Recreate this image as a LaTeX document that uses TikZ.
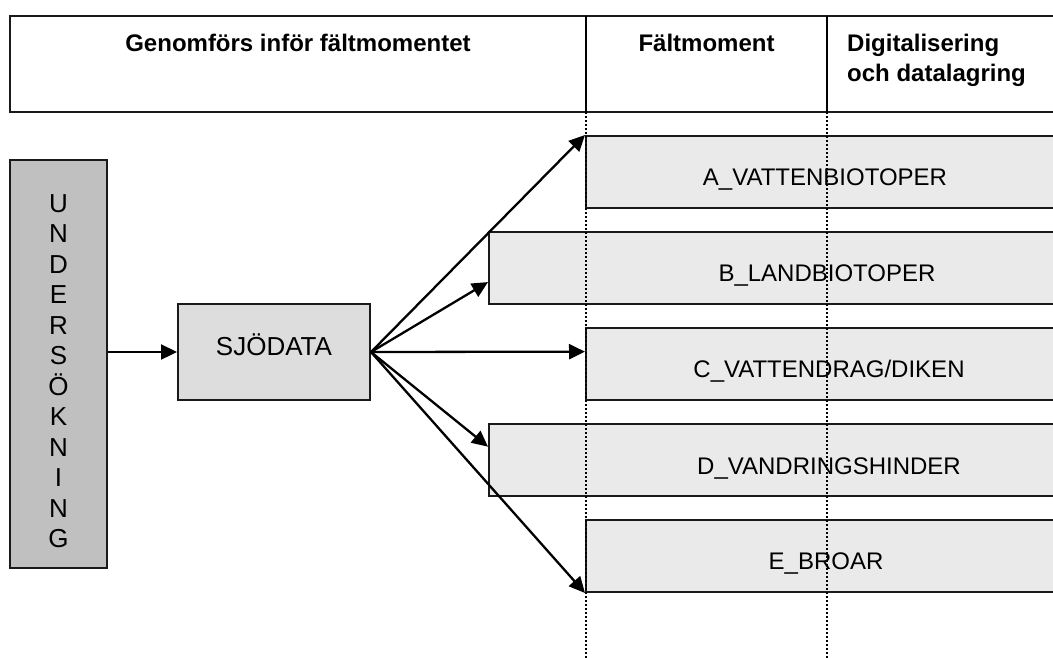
\documentclass[tikz,border=0pt]{standalone}
\usepackage{fontspec}
\setmainfont{Liberation Sans}
\usetikzlibrary{arrows.meta,calc}
\definecolor{undfill}{HTML}{C0C0C0}
\definecolor{sjofill}{HTML}{DDDDDD}
\definecolor{boxfill}{HTML}{EAEAEA}
\definecolor{boxline}{HTML}{1A1A1A}
\tikzset{
  hdrtext/.style={font=\bfseries\fontsize{24}{30}\selectfont, anchor=base, inner sep=0pt},
  lbltext/.style={font=\fontsize{24}{28}\selectfont, anchor=base, inner sep=0pt},
  bigtext/.style={font=\fontsize{26}{30}\selectfont, anchor=base, inner sep=0pt},
  stagebox/.style={draw=boxline, line width=2pt, fill=boxfill, rectangle, inner sep=0pt, minimum height=72pt},
  conn/.style={line width=2.3pt, -{Triangle[length=16pt,width=15pt]}},
  divline/.style={line width=1.4pt, dash pattern=on 1.8pt off 2.2pt},
}
\begin{document}
\begin{tikzpicture}[x=1pt,y=-1pt]
\useasboundingbox (0,0) rectangle (1053,657);
\clip (0,0) rectangle (1053,657);
% header
\draw[line width=2.2pt, draw=boxline] (1070,16) -- (10,16) -- (10,112) -- (1070,112);
\draw[line width=2pt] (586,16) -- (586,112);
\draw[line width=2pt] (827,16) -- (827,112);
\node[hdrtext] (h1) at (298,51) {Genomförs inför fältmomentet};
\node[hdrtext] (h2) at (706.5,51) {Fältmoment};
\node[hdrtext, anchor=base west] (h3) at (847,51) {Digitalisering};
\node[hdrtext, anchor=base west] (h4) at (847,81) {och datalagring};
% left boxes
\node (und) [draw=boxline, line width=2pt, fill=undfill, rectangle, inner sep=0pt,
  minimum width=97pt, minimum height=408pt] at (58.5,364) {};
\foreach \l [count=\i from 0] in {U,N,D,E,R,S,Ö,K,N,I,N,G}
  \node[bigtext] (und\i) at (58.5,{212+30.5*\i}) {\l};
\node (sjo) [draw=boxline, line width=2pt, fill=sjofill, rectangle, inner sep=0pt,
  minimum width=192pt, minimum height=96pt] at (274,352) {};
\node[bigtext] (sjot) at (274,355) {SJÖDATA};
% stage boxes (right edges beyond the page)
\node (A) [stagebox, minimum width=482pt] at (827,172) {};
\node (B) [stagebox, minimum width=676pt] at (827,268) {};
\node (C) [stagebox, minimum width=482pt] at (827,364) {};
\node (D) [stagebox, minimum width=676pt] at (827,460) {};
\node (E) [stagebox, minimum width=482pt] at (827,556) {};
\node[lbltext] (At) at (825,185) {A\_VATTENBIOTOPER};
\node[lbltext] (Bt) at (827,281) {B\_LANDBIOTOPER};
\node[lbltext] (Ct) at (829,377) {C\_VATTENDRAG/DIKEN};
\node[lbltext] (Dt) at (829,474) {D\_VANDRINGSHINDER};
\node[lbltext] (Et) at (826,569) {E\_BROAR};
% dotted dividers
\coordinate (d1t) at (586,112);
\coordinate (d1b) at (586,660);
\coordinate (d2t) at (827,112);
\coordinate (d2b) at (827,660);
\draw[divline] (d1t) -- (d1b);
\draw[divline] (d2t) -- (d2b);
% connectors
\draw[conn] (und.east |- sjo.west) -- (sjo.west);
\draw[conn] (sjo.east) -- (A.north west);
\draw[conn] (sjo.east) -- ($(B.north west)!0.69!(B.south west)$);
\draw[conn] (sjo.east) -- ($(C.north west)!0.333!(C.south west)$);
\draw[conn] (sjo.east) -- ($(D.north west)!0.32!(D.south west)$);
\draw[conn] (sjo.east) -- (E.south west);
\end{tikzpicture}
\end{document}
